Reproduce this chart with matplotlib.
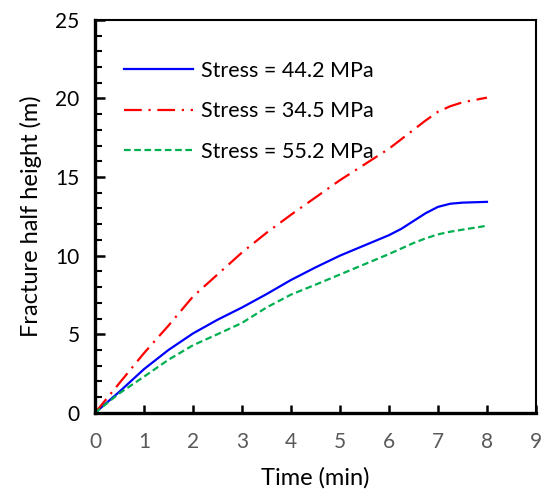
import matplotlib
matplotlib.use("Agg")
import matplotlib.pyplot as plt
from matplotlib.ticker import MultipleLocator

plt.rcParams['font.family'] = ['Lato', 'DejaVu Sans']

time = [0, 0.5, 1, 1.5, 2, 2.5, 3, 3.5, 4, 4.5, 5, 5.5, 6, 6.25, 6.5, 6.75, 7, 7.25, 7.5, 8]
h_442 = [0, 1.35, 2.78, 4.0, 5.05, 5.92, 6.7, 7.55, 8.45, 9.25, 10.0, 10.65, 11.3, 11.7, 12.2, 12.7, 13.1, 13.3, 13.37, 13.42]
h_345 = [0, 1.9, 3.8, 5.55, 7.4, 8.8, 10.2, 11.45, 12.6, 13.7, 14.8, 15.8, 16.8, 17.4, 18.0, 18.6, 19.15, 19.5, 19.75, 20.05]
h_552 = [0, 1.25, 2.3, 3.38, 4.3, 5.0, 5.72, 6.7, 7.52, 8.15, 8.8, 9.45, 10.1, 10.45, 10.8, 11.1, 11.35, 11.52, 11.65, 11.9]

labels = ["Stress = 44.2 MPa", "Stress = 34.5 MPa", "Stress = 55.2 MPa"]
x_ticks = [0, 1, 2, 3, 4, 5, 6, 7, 8, 9]
y_ticks = [0, 5, 10, 15, 20, 25]

fig = plt.figure(figsize=(5.43, 4.95), dpi=100)
ax = fig.add_axes([0.175, 0.166, 0.812, 0.794])

ax.plot(time, h_442, color='#0000FF', lw=1.6, ls='-', label=labels[0])
ax.plot(time, h_345, color='#FF0000', lw=1.6, ls=(0, (8, 3, 1, 3)), label=labels[1])
ax.plot(time, h_552, color='#00B050', lw=1.6, ls=(0, (3, 1.6)), label=labels[2])

ax.set_xlim(0, 9)
ax.set_ylim(0, 25)
ax.set_xticks(x_ticks)
ax.set_yticks(y_ticks)
ax.yaxis.set_minor_locator(MultipleLocator(1))

ax.tick_params(axis='x', which='major', direction='in', length=6, width=1.8,
               labelsize=15, labelcolor='#595959', pad=14)
ax.tick_params(axis='y', which='major', direction='in', length=7, width=1.8,
               labelsize=15, labelcolor='#000000', pad=11)
ax.tick_params(axis='y', which='minor', direction='in', length=5, width=1.5)

for side in ['left', 'bottom']:
    ax.spines[side].set_linewidth(2.4)
for side in ['top', 'right']:
    ax.spines[side].set_linewidth(1.5)

ax.set_xlabel("Time (min)", fontsize=17, labelpad=11)
ax.set_ylabel("Fracture half height (m)", fontsize=17, labelpad=10)

leg = ax.legend(loc='upper left', bbox_to_anchor=(0.022, 0.945), frameon=False,
                fontsize=15.5, handlelength=3.2, handletextpad=0.35, labelspacing=0.95)

fig.savefig("out.png", dpi=100)
